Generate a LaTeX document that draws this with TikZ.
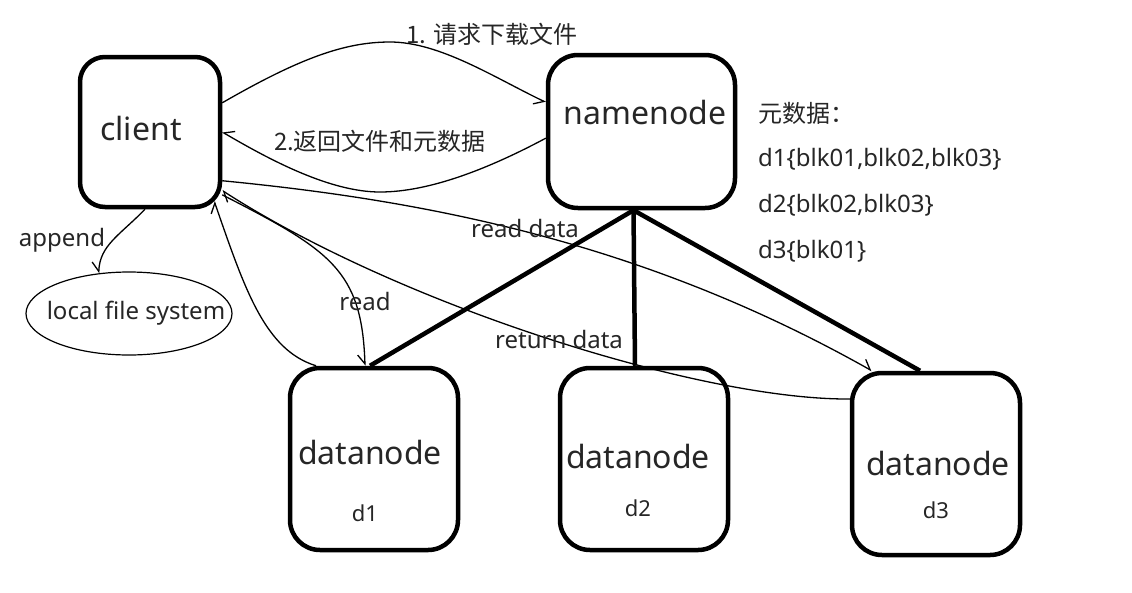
\documentclass[tikz,border=0pt]{standalone}
\usepackage{fontspec}
\setmainfont{Noto Sans}
\newfontfamily\cjk{Noto Sans CJK SC}
\usetikzlibrary{arrows.meta,shapes.geometric,calc}
\begin{document}
\begin{tikzpicture}[x=1pt,y=-1pt,
  box/.style={draw,line width=4.5pt,rounded corners=30pt,inner sep=0pt},
  big/.style={font=\fontsize{32}{36}\selectfont,inner sep=0pt,text=black!85},
  sub/.style={font=\fontsize{22}{26}\selectfont,inner sep=0pt,text=black!85},
  lbl/.style={font=\fontsize{24}{28}\selectfont,inner sep=0pt,text=black!85},
  cn/.style={font=\cjk\fontsize{24}{28}\selectfont,inner sep=0pt,text=black!85},
  link/.style={line width=4.5pt},
  conn/.style={line width=1.3pt},
  tipL/.style={-{Straight Barb[length=9pt,width=14pt,harpoon]}},
  tipR/.style={-{Straight Barb[length=9pt,width=14pt,harpoon,swap]}},
]
\fill[white] (0,0) rectangle (1132,592);
\useasboundingbox (0,0) rectangle (1132,592);

% boxes
\node[box,rounded corners=25pt,minimum width=140pt,minimum height=150pt] (client) at (150,132) {};
\node[box,minimum width=187pt,minimum height=153pt] (nn) at (641.5,131.5) {};
\node[box,minimum width=168pt,minimum height=182pt] (d1) at (374,459) {};
\node[box,minimum width=168pt,minimum height=182pt] (d2) at (644,459) {};
\node[box,minimum width=168pt,minimum height=182pt] (d3) at (936,464) {};
\node[draw,ellipse,line width=1.2pt,minimum width=206pt,minimum height=83pt,inner sep=0pt] (lfs) at (129,313.5) {};

% box texts
\node[big] (tclient) at (141,128) {client};
\node[big] (tnn) at (645,112) {namenode};
\node[big] (td1) at (370,452) {datanode};
\node[sub] (sd1) at (365,513) {d1};
\node[big] (td2) at (638,456) {datanode};
\node[sub] (sd2) at (638,508) {d2};
\node[big] (td3) at (938,463) {datanode};
\node[sub] (sd3) at (936,510) {d3};
\node[lbl] (tlfs) at (136,313) {local file system};

% thick links namenode -> datanodes
\draw[link] ([xshift=-8pt]nn.south) -- ([xshift=-4pt]d1.north);
\draw[link] ([xshift=-8pt]nn.south) -- ([xshift=-9pt]d2.north);
\draw[link] ([xshift=-8pt]nn.south) -- ([xshift=-16pt]d3.north);

% connectors
\draw[conn,tipR] (client.22.5) .. controls (300,58) and (345,42) .. (390,42)
   .. controls (440,42) and (495,78) .. (nn.163);
\draw[conn,tipR] (nn.-176) .. controls (490,168) and (430,192) .. (380,192)
   .. controls (330,192) and (270,160) .. (client.east);
\draw[conn,tipL] (client.-34) .. controls (420,200) and (640,240) .. ([xshift=22pt]d3.north west);
\draw[conn,tipL] (d3.143) .. controls (700,400) and (400,305) .. (client.-39);
\draw[conn,tipR] (client.-41) .. controls (330,250) and (362,270) .. ([xshift=-9pt]d1.north);
\draw[conn,tipL] ([xshift=-58pt]d1.north) .. controls (265,350) and (245,290) .. ([shift={(-8,-8)}]client.south east);
\draw[conn,tipR] ([xshift=-5pt]client.south) .. controls (120,235) and (100,245) .. (lfs.127);

% labels
\node[cn] (l1) at (492,34) {1. 请求下载文件};
\node[cn] (l2) at (380,141) {2.返回文件和元数据};
\node[cn,anchor=west] (meta) at (758,113) {元数据：};
\node[lbl,anchor=west] (m1) at (758,159) {d1\{blk01,blk02,blk03\}};
\node[lbl,anchor=west] (m2) at (758,205) {d2\{blk02,blk03\}};
\node[lbl,anchor=west] (m3) at (758,251) {d3\{blk01\}};
\node[lbl] (lappend) at (62,240) {append};
\node[lbl] (lread) at (365,301) {read};
\node[lbl] (lrd) at (525,228) {read data};
\node[lbl] (lret) at (559,339) {return data};
\end{tikzpicture}
\end{document}
